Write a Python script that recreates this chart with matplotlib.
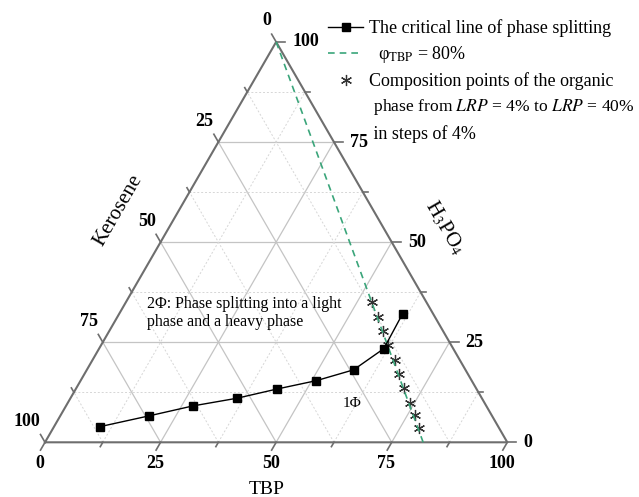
import numpy as np
import matplotlib.pyplot as plt
from matplotlib.lines import Line2D

plt.rcParams['font.family'] = ['Liberation Serif', 'DejaVu Serif']
plt.rcParams['mathtext.fontset'] = 'stix'

# values in percent (TBP, H3PO4); kerosene is the rest
crit_tbp = [9.9, 19.2, 27.5, 36.0, 43.5, 51.0, 57.7, 61.6, 61.3]
crit_h3po4 = [3.9, 6.6, 9.1, 11.0, 13.3, 15.4, 18.1, 23.4, 32.1]
org_tbp = [53.1, 56.3, 59.2, 62.1, 65.4, 68.1, 70.9, 74.0, 76.6, 79.2]
org_h3po4 = [35.1, 31.4, 27.9, 24.3, 20.6, 17.0, 13.6, 9.9, 6.8, 3.5]
phi_tbp = [0, 81.8]
phi_h3po4 = [100, 0]
major = [0, 25, 50, 75, 100]
minor = [12.5, 37.5, 62.5, 87.5]
tick_labels = ['0', '25', '50', '75', '100']

S = 462.3  # pixels per unit side
PX = 1 / S
R3 = np.sqrt(3) / 2


def tern(t, h):
    t = np.asarray(t, float) / 100
    h = np.asarray(h, float) / 100
    return t + h / 2, h * R3


def pix(x, y):
    # figure pixel (from top-left) -> data coords
    return (x - 45) * PX, (442.3 - y) * PX


fig = plt.figure(figsize=(6.39, 4.97), dpi=100)
ax = fig.add_axes([0, 0, 1, 1])
ax.set_xlim(-45 * PX, (639 - 45) * PX)
ax.set_ylim(-54.7 * PX, 442.3 * PX)
ax.axis('off')

# grid
for v in major[1:-1] + minor:
    style = dict(color='#c4c4c4', lw=0.9, ls='-') if v in major else dict(color='#d6d6d6', lw=0.7, ls=(0, (2, 2)))
    ax.plot(*tern([v, v], [0, 100 - v]), zorder=1, **style)
    ax.plot(*tern([0, 100 - v], [v, v]), zorder=1, **style)
    ax.plot(*tern([100 - v, 0], [0, 100 - v]), zorder=1, **style)

# frame
ax.plot(*tern([0, 100, 0, 0], [0, 0, 100, 0]), color='#6e6e6e', lw=1.5, zorder=2)

# ticks and labels
for v in major + minor:
    L = 9 * PX if v in major else 5 * PX
    x, y = tern(v, 0)
    ax.plot([x, x - 0.5 * L], [y, y - R3 * L], color='#6e6e6e', lw=1.2)
    x, y = tern(100 - v, v)
    ax.plot([x, x + L], [y, y], color='#6e6e6e', lw=1.2)
    x, y = tern(0, 100 - v)
    ax.plot([x, x - 0.5 * L], [y, y + R3 * L], color='#6e6e6e', lw=1.2)

for v, lab in zip(major, tick_labels):
    kw = dict(fontsize=13, fontweight='bold', va='center')
    x, y = tern(v, 0)
    ax.text(x - 5.5 * PX, y - 21 * PX, lab, ha='center', **kw)
    x, y = tern(100 - v, v)
    ax.text(x + 16 * PX, y, lab, ha='left', **kw)
    x, y = tern(0, 100 - v)
    ax.text(x - 5 * PX, y + 21 * PX, lab, ha='right', **kw)

ax.text(*pix(267, 490), 'TBP', fontsize=14, ha='center', va='center')
ax.text(*pix(118, 210), 'Kerosene', fontsize=15, ha='center', va='center', rotation=60)
ax.text(*pix(445, 228), r'H$_3$PO$_4$', fontsize=15, ha='center', va='center', rotation=-60)

# data
phi_line, = ax.plot(*tern(phi_tbp, phi_h3po4), color='#3aa57a', lw=1.2, ls=(0, (4, 3)), zorder=4)
crit_line, = ax.plot(*tern(crit_tbp, crit_h3po4), color='black', lw=1, marker='s', ms=5.5, zorder=5)
org_pts, = ax.plot(*tern(org_tbp, org_h3po4), ls='none', marker=(6, 2, 0), ms=8, mew=0.9,
                   color='#333333', zorder=3)

ax.text(*pix(146.7, 312.7), '2Φ: Phase splitting into a light\nphase and a heavy phase',
        fontsize=11.5, ha='left', va='center', linespacing=1.2)
ax.text(*pix(352.5, 403.3), '1Φ', fontsize=11, ha='center', va='center')

blank = Line2D([], [], ls='none')
handles = [crit_line, phi_line, org_pts, blank, blank]
labels = ['The critical line of phase splitting',
          '  φ$_{\\mathrm{TBP}}$ = 80%',
          'Composition points of the organic',
          ' phase from $\\it{LRP}$ = 4% to $\\it{LRP}$ = 40%',
          ' in steps of 4%']
leg = ax.legend(handles, labels, loc='upper left',
                bbox_to_anchor=(328 / 639, 1 - 19 / 497), frameon=False, fontsize=13,
                handlelength=1.95, handletextpad=0.3, borderpad=0, borderaxespad=0, labelspacing=0.4)
leg.get_texts()[3].set_fontsize(12.6)

fig.savefig('out.png', dpi=100)
